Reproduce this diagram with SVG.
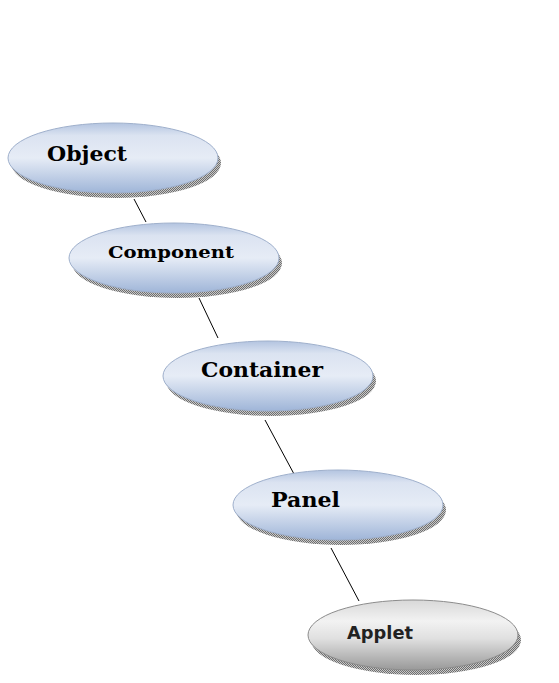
<svg xmlns="http://www.w3.org/2000/svg" width="559" height="683" viewBox="0 0 559 683">
<defs>
<linearGradient id="blue" x1="0" y1="0" x2="0" y2="1">
<stop offset="0" stop-color="#b3c4e0"/>
<stop offset="0.18" stop-color="#dbe3f1"/>
<stop offset="0.5" stop-color="#e6ecf6"/>
<stop offset="1" stop-color="#9fb5d8"/>
</linearGradient>
<linearGradient id="gray" x1="0" y1="0" x2="0" y2="1">
<stop offset="0" stop-color="#d8d8d8"/>
<stop offset="0.3" stop-color="#f2f2f2"/>
<stop offset="0.55" stop-color="#e0e0e0"/>
<stop offset="1" stop-color="#999999"/>
</linearGradient>
<pattern id="dots" width="2" height="2" patternUnits="userSpaceOnUse">
<rect width="2" height="2" fill="#c8c8c8"/>
<rect width="1" height="1" fill="#6e6e6e"/>
<rect x="1" y="1" width="1" height="1" fill="#6e6e6e"/>
</pattern>
</defs>
<style>
.shadow{fill:url(#dots);}
.b{fill:url(#blue);stroke:#9fb0cc;stroke-width:1;}
.g{fill:url(#gray);stroke:#8c8c8c;stroke-width:1;}
.t{font-family:"DejaVu Serif","Liberation Serif",serif;font-weight:bold;fill:#000;}
.s{font-family:"DejaVu Sans","Liberation Sans",sans-serif;font-weight:bold;fill:#222;}
.c{stroke:#000;stroke-width:1;fill:none;}
</style>
<g id="connectors">
<line class="c" x1="134" y1="199" x2="146" y2="222"/>
<line class="c" x1="199" y1="298" x2="218" y2="338"/>
<line class="c" x1="265" y1="420" x2="294" y2="474"/>
<line class="c" x1="331" y1="548" x2="359" y2="601"/>
</g>
<g id="object">
<ellipse class="shadow" cx="116" cy="163" rx="105" ry="35"/>
<ellipse class="b" cx="113" cy="158" rx="105" ry="35"/>
<text class="t" x="47" y="161" font-size="21" textLength="80" lengthAdjust="spacingAndGlyphs">Object</text>
</g>
<g id="component">
<ellipse class="shadow" cx="177" cy="263" rx="105" ry="35"/>
<ellipse class="b" cx="174" cy="258" rx="105" ry="35"/>
<text class="t" x="108" y="258" font-size="17" textLength="126" lengthAdjust="spacingAndGlyphs">Component</text>
</g>
<g id="container">
<ellipse class="shadow" cx="271" cy="381" rx="105" ry="35"/>
<ellipse class="b" cx="268" cy="376" rx="105" ry="35"/>
<text class="t" x="201" y="377" font-size="20" textLength="122" lengthAdjust="spacingAndGlyphs">Container</text>
</g>
<g id="panel">
<ellipse class="shadow" cx="341" cy="510" rx="105" ry="35"/>
<ellipse class="b" cx="338" cy="505" rx="105" ry="35"/>
<text class="t" x="271" y="507" font-size="21" textLength="69" lengthAdjust="spacingAndGlyphs">Panel</text>
</g>
<g id="applet">
<ellipse class="shadow" cx="416" cy="640" rx="105" ry="35"/>
<ellipse class="g" cx="413" cy="635" rx="105" ry="35"/>
<text class="s" x="347" y="639" font-size="18" textLength="66" lengthAdjust="spacingAndGlyphs">Applet</text>
</g>
</svg>
